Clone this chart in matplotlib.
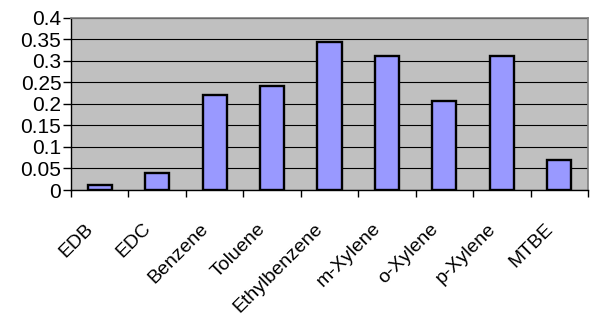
import numpy as np
import matplotlib.pyplot as plt
import matplotlib.transforms as mtransforms

plt.rcParams["font.family"] = ["Liberation Sans", "DejaVu Sans"]

compounds = ["EDB", "EDC", "Benzene", "Toluene", "Ethylbenzene",
             "m-Xylene", "o-Xylene", "p-Xylene", "MTBE"]
values = [0.012, 0.039, 0.221, 0.242, 0.343, 0.312, 0.207, 0.312, 0.070]
ytick_labels = ["0", "0.05", "0.1", "0.15", "0.2", "0.25", "0.3", "0.35", "0.4"]

fig = plt.figure(figsize=(5.9, 3.23), dpi=100)
ax = fig.add_axes([71 / 590, 1 - 190 / 323, 1 - 71 / 590 - 2 / 590, (190 - 17.7) / 323])
ax.set_facecolor("#C0C0C0")

x = np.arange(len(compounds))
ax.bar(x, values, width=0.42, color="#9999FF", edgecolor="black", linewidth=1.7, zorder=3)

ax.set_xlim(-0.5, len(compounds) - 0.5)
ax.set_ylim(0, 0.4)
ax.set_yticks(np.arange(0, 0.401, 0.05))
ax.set_yticklabels(ytick_labels, fontsize=15)
ax.yaxis.grid(True, color="black", linewidth=0.8, zorder=1)

# ticks sit on category boundaries, labels are centred on the bars
ax.set_xticks(np.arange(-0.5, len(compounds), 1.0))
ax.set_xticklabels([])
ax.set_xticks(x, minor=True)
ax.set_xticklabels(compounds, minor=True, rotation=45, ha="right",
                   rotation_mode="anchor", fontsize=14)
ax.tick_params(axis="x", which="minor", length=0, pad=26)
ax.tick_params(axis="x", which="major", length=5, width=1, direction="out")
ax.tick_params(axis="y", length=6, width=1, direction="out", pad=1)

shift = mtransforms.ScaledTranslation(-15 / 100, 6 / 100, fig.dpi_scale_trans)
for lab in ax.get_xticklabels(minor=True):
    lab.set_transform(lab.get_transform() + shift)

for side in ["top", "right"]:
    ax.spines[side].set_color("#808080")
    ax.spines[side].set_linewidth(1.2)
for side in ["left", "bottom"]:
    ax.spines[side].set_color("black")
    ax.spines[side].set_linewidth(1)
ax.set_axisbelow(True)

fig.savefig("out.png", dpi=100)
